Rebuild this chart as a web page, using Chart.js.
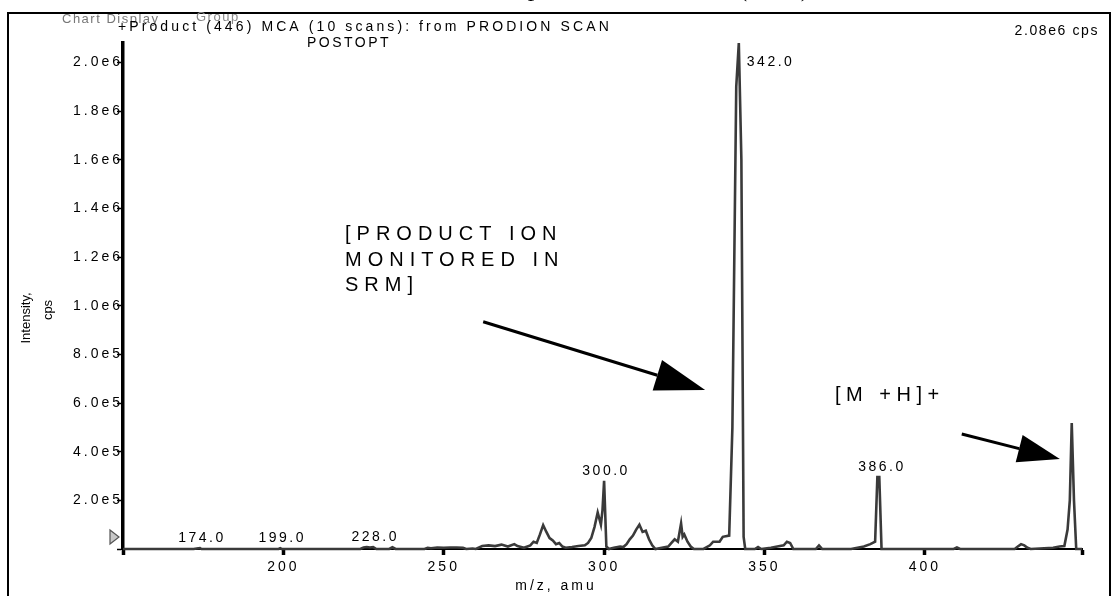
<!DOCTYPE html>
<html>
<head>
<meta charset="utf-8">
<script src="https://cdn.jsdelivr.net/npm/chart.js@4"></script>
<style>
  html, body { margin: 0; padding: 0; background: #fff; }
  canvas { display: block; }
</style>
</head>
<body>
<canvas id="spectrum" width="1112" height="596"></canvas>
<script>
// product ion scan of m/z 446, centroid trace
const mz = [
  150, 172, 173.5, 174, 174.5, 198.5, 199, 199.5,
  224, 225, 226, 227, 228, 229, 233, 234, 235,
  244, 245, 246, 248, 250, 252, 254, 256, 257, 259, 260,
  262, 264, 266, 268, 270, 272, 273, 275, 277, 278, 279, 280, 281, 282, 283, 284, 285, 286, 287, 288,
  290, 292, 294, 295, 296, 297, 298, 299, 299.5, 300, 300.7, 301.5,
  303, 305, 306, 307, 308, 309, 310, 311, 312, 313, 314, 315, 316,
  318, 320, 321, 322, 323, 324, 324.5, 325, 326, 327, 328,
  331, 333, 334, 336, 337, 339, 340, 341.2, 342, 342.8, 343.5, 344,
  347, 348, 349, 352, 354, 356, 357, 358, 359, 366, 367, 368,
  377, 379, 381, 383, 384.5, 385.2, 385.8, 386.5,
  409, 410, 411, 428, 429, 430, 431, 432, 433,
  440, 442, 443.5, 444.5, 445.2, 445.8, 446.5, 447.2, 449
];
const intensity = [
  0, 0, 3000, 4000, 0, 0, 3000, 0,
  0, 6000, 8000, 6000, 8000, 0, 0, 7000, 0,
  0, 5000, 3000, 6000, 5000, 6000, 6000, 5000, 0, 2000, 0,
  12000, 15000, 12000, 18000, 10000, 20000, 12000, 5000, 15000, 30000, 25000, 60000, 98000, 70000, 45000, 35000, 20000, 25000, 10000, 5000,
  8000, 12000, 15000, 25000, 45000, 90000, 150000, 100000, 160000, 280000, 10000, 0,
  5000, 10000, 8000, 20000, 40000, 55000, 80000, 100000, 70000, 75000, 40000, 15000, 0,
  5000, 10000, 25000, 40000, 30000, 105000, 50000, 60000, 30000, 10000, 0,
  0, 15000, 30000, 30000, 50000, 55000, 500000, 1900000, 2080000, 1600000, 50000, 0,
  0, 8000, 0, 5000, 10000, 15000, 30000, 25000, 0, 0, 15000, 0,
  0, 5000, 10000, 20000, 30000, 296000, 296000, 0,
  0, 6000, 0, 0, 10000, 20000, 15000, 5000, 0,
  5000, 10000, 12000, 80000, 200000, 518000, 200000, 0, 0
];
const peakLabels = [174, 199, 228, 300, 342, 386];
const xTickValues = [200, 250, 300, 350, 400];
const yTickValues = [0, 2e5, 4e5, 6e5, 8e5, 1e6, 1.2e6, 1.4e6, 1.6e6, 1.8e6, 2e6];
const xRange = [150, 449];
const yRange = [0, 2.08e6];

const SANS = '"Liberation Sans", Arial, sans-serif';

function drawText(c, s, x, y, opts) {
  c.save();
  c.font = opts.font;
  c.letterSpacing = (opts.spacing || 0) + 'px';
  c.fillStyle = opts.color || '#000';
  c.textAlign = opts.align || 'left';
  c.textBaseline = opts.baseline || 'middle';
  c.fillText(s, x, y);
  c.restore();
}

function drawArrow(c, x1, y1, x2, y2, headLen, headW) {
  const dx = x2 - x1, dy = y2 - y1;
  const len = Math.hypot(dx, dy);
  const ux = dx / len, uy = dy / len;
  const bx = x2 - ux * headLen, by = y2 - uy * headLen;
  c.save();
  c.strokeStyle = '#000';
  c.fillStyle = '#000';
  c.lineWidth = 3;
  c.beginPath();
  c.moveTo(x1, y1);
  c.lineTo(bx, by);
  c.stroke();
  c.beginPath();
  c.moveTo(x2, y2);
  c.lineTo(bx - uy * headW / 2, by + ux * headW / 2);
  c.lineTo(bx + uy * headW / 2, by - ux * headW / 2);
  c.closePath();
  c.fill();
  c.restore();
}

function peakHeight(m) {
  let best = 0;
  mz.forEach((v, i) => { if (Math.abs(v - m) <= 1) best = Math.max(best, intensity[i]); });
  return best;
}

const decor = {
  id: 'decor',
  beforeDraw(chart) {
    const c = chart.ctx;
    c.save();
    c.fillStyle = '#fff';
    c.fillRect(0, 0, chart.width, chart.height);

    // cut-off caption above the frame
    drawText(c, 'Product ion spectrum of m/z 446 (ESI+)', 600, -4, {
      font: '26px "Liberation Serif", "Times New Roman", serif', align: 'center', baseline: 'alphabetic'
    });

    // outer frame
    c.strokeStyle = '#000';
    c.lineWidth = 2;
    c.strokeRect(8, 13, 1102, 600);

    // header
    drawText(c, 'Chart Display', 62, 19, { font: '13px ' + SANS, spacing: 1.5, color: '#777' });
    drawText(c, 'Group', 196, 17, { font: '13px ' + SANS, spacing: 1.5, color: '#888' });
    drawText(c, '+Product (446) MCA (10 scans): from PRODION SCAN', 118, 27, { font: '14px ' + SANS, spacing: 3.1 });
    drawText(c, 'POSTOPT', 349, 43, { font: '14px ' + SANS, spacing: 2.5, align: 'center' });
    drawText(c, '2.08e6 cps', 1099, 31, { font: '14px ' + SANS, spacing: 1.6, align: 'right' });
    c.restore();
    c.letterSpacing = '3px';
  },
  afterDraw(chart) {
    const c = chart.ctx;
    c.letterSpacing = '0px';
    const xs = chart.scales.x, ys = chart.scales.y;

    // peak annotations
    peakLabels.forEach(m => {
      const px = xs.getPixelForValue(m);
      const py = ys.getPixelForValue(peakHeight(m));
      const s = m.toFixed(1);
      if (m === 342) {
        drawText(c, s, px + 8, py + 19, { font: '14px ' + SANS, spacing: 2.5 });
      } else {
        drawText(c, s, px + 2, py - 3, { font: '14px ' + SANS, spacing: 2.5, align: 'center', baseline: 'bottom' });
      }
    });

    // callouts
    const big = { font: '20px ' + SANS, spacing: 6 };
    drawText(c, '[PRODUCT ION', 345, 234, big);
    drawText(c, 'MONITORED IN', 345, 260, big);
    drawText(c, 'SRM]', 345, 285, big);
    drawText(c, '[M +H]+', 835, 395, { font: '20px ' + SANS, spacing: 5.5 });

    drawArrow(c, xs.getPixelForValue(262.3), ys.getPixelForValue(9.34e5),
                 xs.getPixelForValue(331.5), ys.getPixelForValue(6.54e5), 50, 32);
    drawArrow(c, xs.getPixelForValue(411.5), ys.getPixelForValue(4.73e5),
                 xs.getPixelForValue(442.1), ys.getPixelForValue(3.70e5), 42, 28);

    // axis titles
    c.save();
    c.translate(26, 318);
    c.rotate(-Math.PI / 2);
    drawText(c, 'Intensity,', 0, 0, { font: '13px ' + SANS, align: 'center' });
    c.restore();
    c.save();
    c.translate(48, 310);
    c.rotate(-Math.PI / 2);
    drawText(c, 'cps', 0, 0, { font: '13px ' + SANS, align: 'center' });
    c.restore();
    drawText(c, 'm/z, amu', 556, 586, { font: '14px ' + SANS, spacing: 3, align: 'center' });

    // zero-level marker
    const y0 = ys.getPixelForValue(0);
    c.save();
    c.beginPath();
    c.moveTo(110, y0 - 19);
    c.lineTo(119, y0 - 12);
    c.lineTo(110, y0 - 5);
    c.closePath();
    c.fillStyle = '#c8c8c8';
    c.fill();
    c.strokeStyle = '#555';
    c.lineWidth = 1.2;
    c.stroke();
    c.restore();
  }
};

new Chart(document.getElementById('spectrum'), {
  type: 'line',
  data: {
    datasets: [{
      data: mz.map((x, i) => ({ x: x, y: intensity[i] })),
      borderColor: '#3a3a3a',
      borderWidth: 2.6,
      pointRadius: 0,
      tension: 0,
      fill: false,
      clip: 4
    }]
  },
  options: {
    responsive: false,
    animation: false,
    events: [],
    layout: { padding: { left: 0, top: 43, right: 30, bottom: 0 } },
    plugins: { legend: { display: false }, tooltip: { enabled: false } },
    scales: {
      x: {
        type: 'linear',
        min: xRange[0],
        max: xRange[1],
        afterFit: s => { s.height = 47; },
        afterBuildTicks: s => { s.ticks = [xRange[0], ...xTickValues, xRange[1]].map(v => ({ value: v })); },
        border: { color: '#000', width: 2 },
        grid: { drawOnChartArea: false, drawTicks: true, tickLength: 6, tickWidth: 3.5, tickColor: '#000' },
        ticks: {
          autoSkip: false,
          maxRotation: 0,
          padding: 4,
          color: '#000',
          font: { family: SANS, size: 14 },
          callback: v => xTickValues.includes(v) ? String(v) : ''
        }
      },
      y: {
        type: 'linear',
        min: yRange[0],
        max: yRange[1],
        afterFit: s => { s.width = 123; },
        afterBuildTicks: s => { s.ticks = yTickValues.map(v => ({ value: v })); },
        border: { color: '#000', width: 3.5 },
        grid: { drawOnChartArea: false, drawTicks: true, tickLength: 6, tickWidth: 1.5, tickColor: '#000' },
        ticks: {
          autoSkip: false,
          padding: -6,
          color: '#000',
          font: { family: SANS, size: 14 },
          callback: v => v === 0 ? '' : v.toExponential(1).replace('e+', 'e')
        }
      }
    }
  },
  plugins: [decor]
});
</script>
</body>
</html>
